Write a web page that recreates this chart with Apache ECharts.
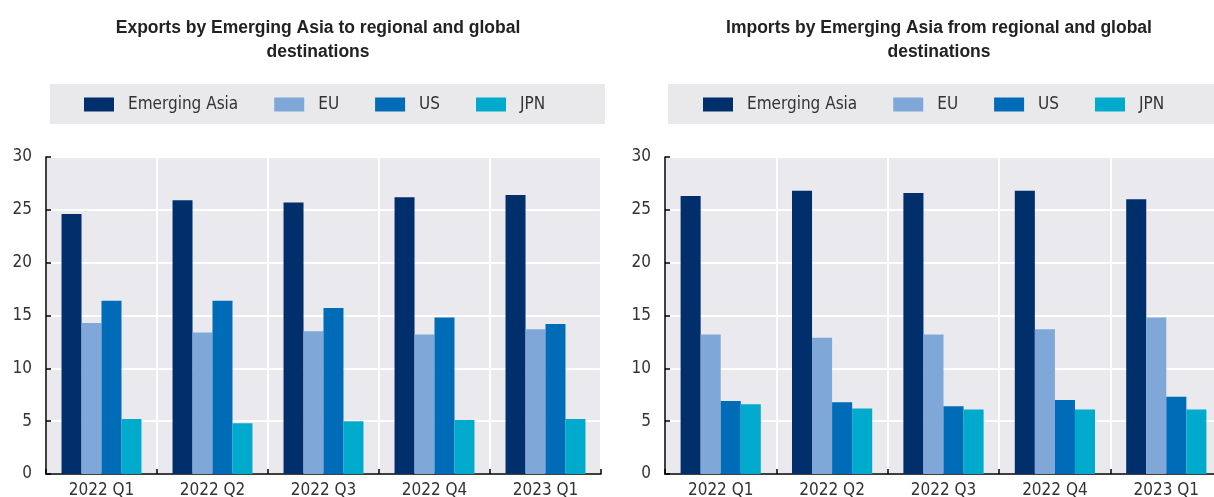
<!DOCTYPE html>
<html>
<head>
<meta charset="utf-8">
<script src="https://cdn.jsdelivr.net/npm/echarts@6/dist/echarts.min.js"></script>
<style>
html,body{margin:0;padding:0;background:#fff;}
#main{width:1214px;height:497px;}
</style>
</head>
<body>
<div id="main"></div>
<script>
var quarters = ['2022 Q1','2022 Q2','2022 Q3','2022 Q4','2023 Q1'];
var seriesNames = ['Emerging Asia','EU','US','JPN'];
var colors = ['#002f6c','#7fa8d9','#006bb6','#00aacc'];

// exports (left panel)
var expEA = [24.6,25.9,25.7,26.2,26.4];
var expEU = [14.3,13.4,13.5,13.2,13.7];
var expUS = [16.4,16.4,15.7,14.8,14.2];
var expJPN = [5.2,4.8,5.0,5.1,5.2];

// imports (right panel)
var impEA = [26.3,26.8,26.6,26.8,26.0];
var impEU = [13.2,12.9,13.2,13.7,14.8];
var impUS = [6.9,6.8,6.4,7.0,7.3];
var impJPN = [6.6,6.2,6.1,6.1,6.1];

var narrow = '"Liberation Sans Narrow","Arial Narrow","DejaVu Sans Condensed",sans-serif';

var chart = echarts.init(document.getElementById('main'));

function xAxisFor(gi){
  return {
    type:'category', gridIndex:gi, data:quarters,
    axisLine:{lineStyle:{color:'#000',width:1.5}},
    axisTick:{show:true,inside:true,length:5,lineStyle:{color:'#000',width:1.5}},
    splitLine:{show:true,lineStyle:{color:'#fff',width:2}},
    axisLabel:{color:'#333',fontSize:17,fontFamily:narrow,margin:8}
  }
}
function yAxisFor(gi){
  return {
    type:'value', gridIndex:gi, min:0, max:30, interval:5,
    axisLine:{show:true,lineStyle:{color:'#000',width:1.5}},
    axisTick:{show:true,inside:true,length:5,lineStyle:{color:'#000',width:1.5}},
    splitLine:{lineStyle:{color:'#fff',width:2}},
    axisLabel:{color:'#333',fontSize:17,fontFamily:narrow,margin:14}
  }
}
function barsFor(gi,arrs){
  return arrs.map(function(a,i){
    return {
      name:seriesNames[i], type:'bar', xAxisIndex:gi, yAxisIndex:gi,
      data:a, barGap:'0%', barCategoryGap:'28%',
      itemStyle:{color:colors[i]}
    }
  })
}
function legendFor(left){
  return {
    left:left, top:96, padding:0, data:seriesNames, itemWidth:30, itemHeight:14, itemGap:36,
    icon:'rect',
    textStyle:{color:'#333',fontSize:17,fontFamily:narrow,padding:[0,0,0,9]}
  }
}

var titleStyle = {fontSize:17.5,fontWeight:'bold',color:'#222',fontFamily:'"Liberation Sans",Arial,sans-serif',lineHeight:24};

var option = {
  animation:false,
  title:[
    {text:'Exports by Emerging Asia to regional and global\ndestinations', left:313, top:11, textAlign:'center', textStyle:titleStyle},
    {text:'Imports by Emerging Asia from regional and global\ndestinations', left:934, top:11, textAlign:'center', textStyle:titleStyle}
  ],
  graphic:[
    {type:'rect',left:50,top:84,shape:{width:555,height:40},style:{fill:'#e9e9ec'},z:-1},
    {type:'rect',left:668,top:84,shape:{width:546,height:40},style:{fill:'#e9e9ec'},z:-1}
  ],
  legend:[legendFor(84),legendFor(703)],
  grid:[
    {left:46,top:157,width:555,bottom:23,outerBoundsMode:'none',show:true,backgroundColor:'#e9e9ee',borderWidth:0},
    {left:665,top:157,width:557,bottom:23,outerBoundsMode:'none',show:true,backgroundColor:'#e9e9ee',borderWidth:0}
  ],
  xAxis:[xAxisFor(0),xAxisFor(1)],
  yAxis:[yAxisFor(0),yAxisFor(1)],
  series:barsFor(0,[expEA,expEU,expUS,expJPN]).concat(barsFor(1,[impEA,impEU,impUS,impJPN]))
};
chart.setOption(option);
</script>
</body>
</html>
